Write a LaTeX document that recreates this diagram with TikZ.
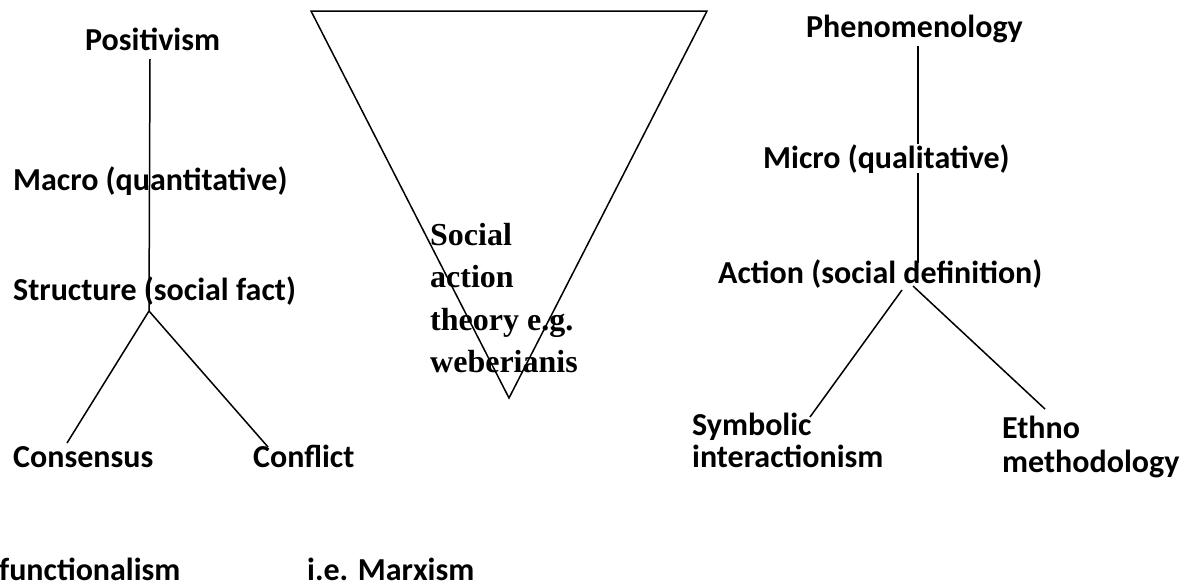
\documentclass[tikz,border=0pt]{standalone}
\usepackage{fontspec}
\setmainfont{Carlito}
\newfontfamily\tnr{Liberation Serif}
\usetikzlibrary{backgrounds}
\begin{document}
\begin{tikzpicture}[x=1pt,y=-1pt,
  lbl/.style={anchor=base west,inner sep=0pt,font=\fontsize{32}{38}\selectfont\bfseries},
  tlbl/.style={anchor=base west,inner sep=0pt,font=\fontsize{32}{42}\selectfont\tnr\bfseries},
  conn/.style={draw=black,line width=1.5pt}]
\useasboundingbox (0,0) rectangle (1190,587);
% left tree
\node[lbl] (pos) at (85,50) {Positivism};
\node[lbl] (macro) at (13,190) {Macro (quantitative)};
\node[lbl] (struct) at (13,300) {Structure (social fact)};
\node[lbl] (cons) at (13,467) {Consensus};
\node[lbl] (conf) at (253,467) {Conflict};
\node[lbl] (func) at (-1,580) {functionalism};
\node[lbl] (marx) at (307,580) {i.e. Marxism};
% triangle text
\node[tlbl] (t1) at (430,245) {Social};
\node[tlbl] (t2) at (430,287) {action};
\node[tlbl] (t3) at (430,330) {theory e.g.};
\node[tlbl] (t4) at (430,372) {weberianis};
% right tree
\node[lbl] (phen) at (806,37) {Phenomenology};
\node[lbl,fill=white] (micro) at (763,168) {Micro (qualitative)};
\node[lbl] (action) at (718,283) {Action (social definition)};
\node[lbl] (sym1) at (692,435) {Symbolic};
\node[lbl] (sym2) at (692,467) {interactionism};
\node[lbl] (eth1) at (1002,438) {Ethno};
\node[lbl] (eth2) at (1002,472) {methodology};
% connector end points
\coordinate (posb) at (150,59);
\coordinate (apexL) at (149,311);
\coordinate (consT) at (67,443);
\coordinate (confT) at (268,447);
\coordinate (phenb) at (918,46);
\coordinate (actT) at (918,263);
\coordinate (actL) at (902,290);
\coordinate (actR) at (913,286);
\coordinate (symT) at (810,417);
\coordinate (ethT) at (1045,409);
\coordinate (triA) at (311,11);
\coordinate (triB) at (707,11);
\coordinate (triC) at (509,398);
\begin{pgfonlayer}{background}
\fill[white] (0,0) rectangle (1190,587);
\draw[conn] (posb) -- (apexL);
\draw[conn] (apexL) -- (consT);
\draw[conn] (apexL) -- (confT);
\draw[conn] (phenb) -- (actT);
\draw[conn] (actL) -- (symT);
\draw[conn] (actR) -- (ethT);
\end{pgfonlayer}
\draw[conn,line join=miter] (triA) -- (triB) -- (triC) -- cycle;
\end{tikzpicture}
\end{document}
